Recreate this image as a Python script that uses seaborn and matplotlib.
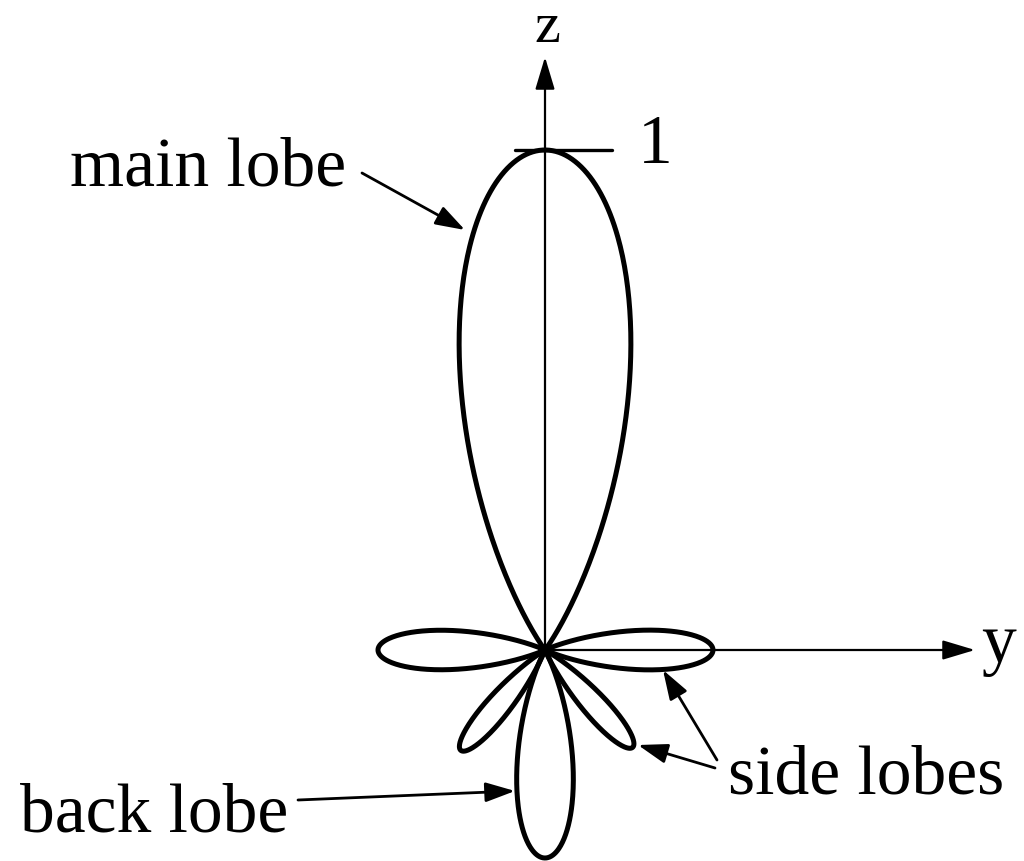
import numpy as np
import pandas as pd
import seaborn as sns
import matplotlib.pyplot as plt

# radiation pattern lobes (length 1 = main lobe peak)
lobe_names = ["main", "side right", "side left", "side lower right", "side lower left", "back"]
lobe_dir_deg = [90, 0, 180, -48, -130, -90]
lobe_length = [1.0, 0.336, 0.334, 0.262, 0.262, 0.416]
lobe_halfwidth_deg = [38, 26, 26, 20, 20, 30]
lobe_power = [2.0, 2.0, 2.0, 2.0, 2.0, 2.0]

sns.set_theme(style="white")
plt.rcParams['font.family'] = 'serif'
plt.rcParams['font.serif'] = ['Liberation Serif', 'DejaVu Serif']
plt.rcParams['text.color'] = 'black'

fig = plt.figure(figsize=(10.24, 8.61), dpi=100)
ax = fig.add_axes([0, 0, 1, 1])

rows = []
for name, d, L, w, p in zip(lobe_names, lobe_dir_deg, lobe_length, lobe_halfwidth_deg, lobe_power):
    phi = np.linspace(-w, w, 400)
    r = L * np.cos(np.pi / 2 * phi / w) ** p
    th = np.radians(d + phi)
    rows.append(pd.DataFrame({"lobe": name, "x": r * np.cos(th), "y": r * np.sin(th)}))
df = pd.concat(rows)

for name in lobe_names:
    sub = df[df.lobe == name]
    sns.lineplot(data=sub, x="x", y="y", sort=False, estimator=None, color="black", lw=3.6, ax=ax)

# axes arrows
axis_arrow = dict(arrowstyle="-|>,head_length=1.0,head_width=0.3", color="black", lw=1.6,
                  shrinkA=0, shrinkB=0, mutation_scale=20)
ax.annotate("", xy=(0, 1.186), xytext=(0, 0), arrowprops=axis_arrow)
ax.annotate("", xy=(0.86, 0), xytext=(0, 0), arrowprops=axis_arrow)
ax.plot([-0.06, 0.134], [1.0, 1.0], color="black", lw=2.4)

fs = 50
ax.text(0.004, 1.216, "z", fontsize=42, ha="center", va="baseline")
ax.text(0.186, 0.974, "1", fontsize=fs, ha="left", va="baseline")
ax.text(0.872, -0.024, "y", fontsize=fs, ha="left", va="baseline")
ax.text(-0.95, 0.93, "main lobe", fontsize=fs, ha="left", va="baseline")
ax.text(0.366, -0.286, "side lobes", fontsize=fs, ha="left", va="baseline")
ax.text(-1.05, -0.364, "back lobe", fontsize=fs, ha="left", va="baseline")

pointer = dict(arrowstyle="-|>,head_length=0.9,head_width=0.3", color="black", lw=2.0,
               shrinkA=0, shrinkB=0, mutation_scale=20)
ax.annotate("", xy=(-0.16, 0.84), xytext=(-0.366, 0.954), arrowprops=pointer)
ax.annotate("", xy=(-0.06, -0.282), xytext=(-0.494, -0.30), arrowprops=pointer)
ax.annotate("", xy=(0.236, -0.04), xytext=(0.344, -0.22), arrowprops=pointer)
ax.annotate("", xy=(0.186, -0.19), xytext=(0.34, -0.236), arrowprops=pointer)

ax.set_xlim(-1.09, 0.958)
ax.set_ylim(-0.422, 1.3)
ax.set_axis_off()
fig.savefig("out.png", dpi=100)
